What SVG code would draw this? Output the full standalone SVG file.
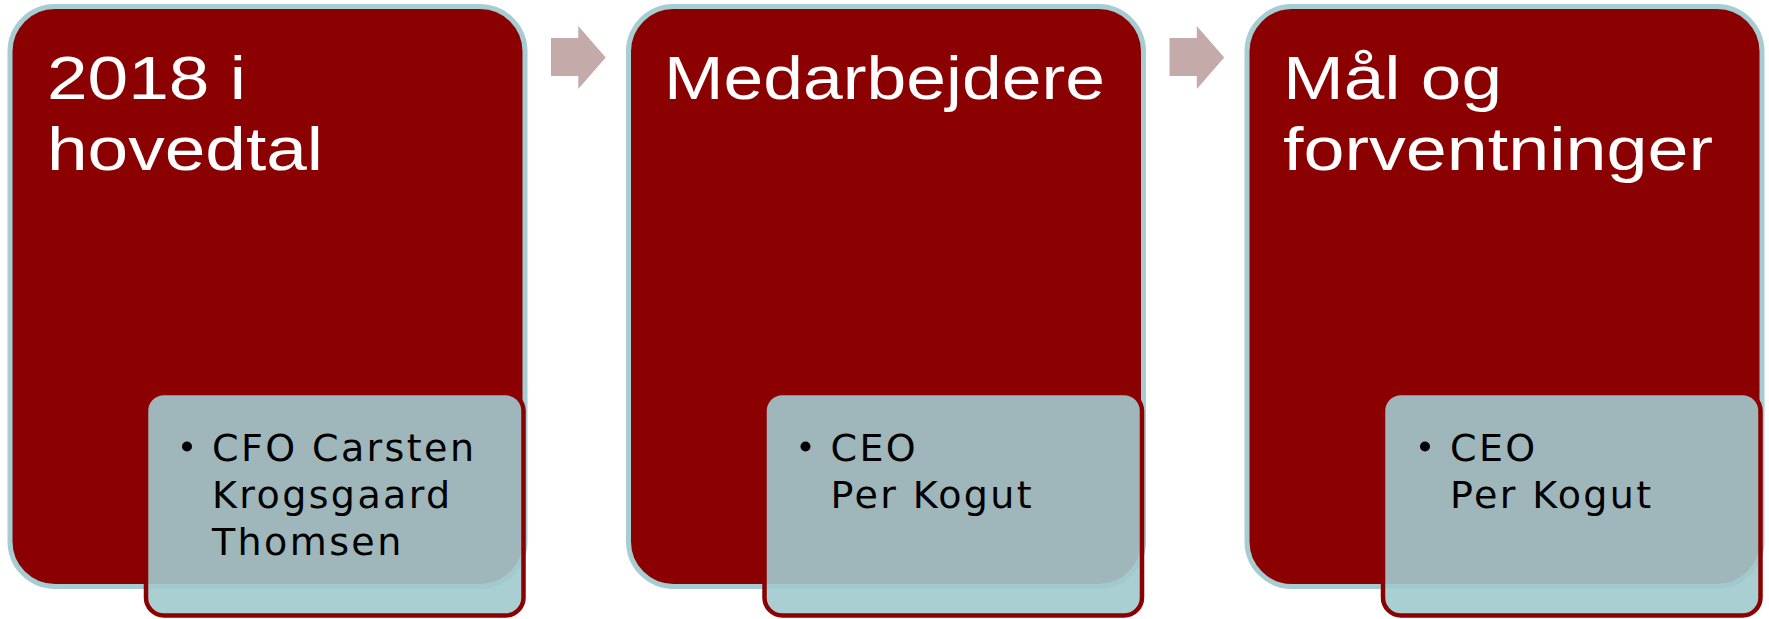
<svg xmlns="http://www.w3.org/2000/svg" width="1769" height="619" viewBox="0 0 1769 619">
<style>
.big{fill:#8B0000;stroke:#A6CDD1;stroke-width:5}
.sub{fill:rgb(161,202,206);fill-opacity:0.9;stroke:#8B0000;stroke-width:4.5}
.title{font-family:"Liberation Sans",Arial,sans-serif;font-size:62px;fill:#FFFFFF}
.body{font-family:"DejaVu Sans",Verdana,sans-serif;font-size:38px;letter-spacing:2.4px;fill:#000000}
.bullet{fill:#000000}
.arrow{fill:#C5AAAA}
</style>
<rect width="1769" height="619" fill="#FFFFFF"/>
<g id="connectors">
<polygon class="arrow" points="551,38 578.3,38 578.3,26 605.7,57.5 578.3,89 578.3,76 551,76"/>
<polygon class="arrow" points="1169.5,38 1196.8,38 1196.8,26 1224.2,57.5 1196.8,89 1196.8,76 1169.5,76"/>
</g>
<g id="node1">
<rect class="big" x="10" y="6.5" width="515" height="580" rx="45" ry="45"/>
<text class="title" x="47" y="99" textLength="199" lengthAdjust="spacingAndGlyphs">2018 i</text>
<text class="title" x="47" y="170" textLength="276" lengthAdjust="spacingAndGlyphs">hovedtal</text>
<rect class="sub" x="146" y="393" width="377.5" height="222.5" rx="18" ry="18"/>
<circle class="bullet" cx="187" cy="446.5" r="5"/>
<text class="body" x="212" y="461">CFO Carsten</text>
<text class="body" x="212" y="508">Krogsgaard</text>
<text class="body" x="212" y="554.5">Thomsen</text>
</g>
<g id="node2">
<rect class="big" x="628.5" y="6.5" width="515" height="580" rx="45" ry="45"/>
<text class="title" x="664" y="99" textLength="441" lengthAdjust="spacingAndGlyphs">Medarbejdere</text>
<rect class="sub" x="764.5" y="393" width="377.5" height="222.5" rx="18" ry="18"/>
<circle class="bullet" cx="805.5" cy="446.5" r="5"/>
<text class="body" x="830.5" y="461">CEO</text>
<text class="body" x="830.5" y="508">Per Kogut</text>
</g>
<g id="node3">
<rect class="big" x="1247" y="6.5" width="515" height="580" rx="45" ry="45"/>
<text class="title" x="1283" y="99" textLength="219" lengthAdjust="spacingAndGlyphs">Mål og</text>
<text class="title" x="1283" y="170" textLength="430" lengthAdjust="spacingAndGlyphs">forventninger</text>
<rect class="sub" x="1383" y="393" width="377.5" height="222.5" rx="18" ry="18"/>
<circle class="bullet" cx="1425" cy="446.5" r="5"/>
<text class="body" x="1450" y="461">CEO</text>
<text class="body" x="1450" y="508">Per Kogut</text>
</g>
</svg>
